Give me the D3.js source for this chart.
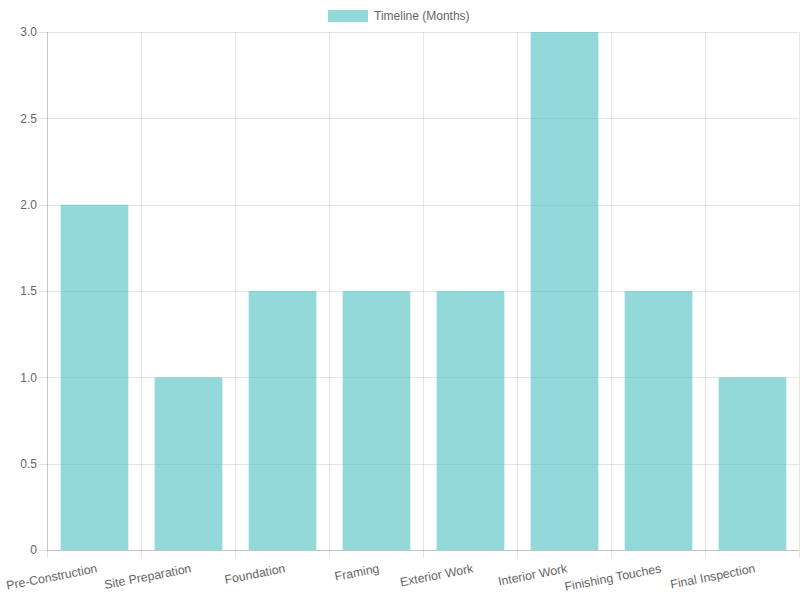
<!DOCTYPE html>
<html>
<head>
<meta charset="utf-8">
<script src="https://cdn.jsdelivr.net/npm/d3@7"></script>
<style>
  body { margin: 0; background: #fff; }
  svg text { font-family: "Liberation Sans", Arial, sans-serif; fill: #666; }
</style>
</head>
<body>
<svg id="chart" width="800" height="600"></svg>
<script>
// chart data
var phases = ["Pre-Construction", "Site Preparation", "Foundation", "Framing",
              "Exterior Work", "Interior Work", "Finishing Touches", "Final Inspection"];
var months = [2, 1, 1.5, 1.5, 1.5, 3, 1.5, 1];
var yTicks = [0, 0.5, 1.0, 1.5, 2.0, 2.5, 3.0];
var seriesName = "Timeline (Months)";

var margin = {left: 47, right: 1, top: 32, bottom: 50};
var width = 800 - margin.left - margin.right;
var height = 600 - margin.top - margin.bottom;

var svg = d3.select("#chart");

// category slots
var xSlot = d3.scaleBand().domain(phases).range([0, width]);

var y = d3.scaleLinear().domain([0, 3]).range([height, 0]);

var g = svg.append("g")
    .attr("transform", "translate(" + margin.left + "," + margin.top + ")");

// horizontal grid
g.selectAll("line.hgrid")
    .data(yTicks)
    .enter()
    .append("line")
    .attr("class", "hgrid")
    .attr("x1", -8)
    .attr("x2", width)
    .attr("y1", function(d){ return Math.round(y(d)) + 0.5; })
    .attr("y2", function(d){ return Math.round(y(d)) + 0.5; })
    .attr("stroke", "rgba(0,0,0,0.1)");

// vertical grid (category boundaries)
var bounds = phases.map(function(p){ return xSlot(p); }).concat([width]);
g.selectAll("line.vgrid")
    .data(bounds)
    .enter()
    .append("line")
    .attr("class", "vgrid")
    .attr("x1", function(d){ return Math.round(d) + 0.5; })
    .attr("x2", function(d){ return Math.round(d) + 0.5; })
    .attr("y1", 0)
    .attr("y2", height + 8)
    .attr("stroke", "rgba(0,0,0,0.1)");

// axis lines
g.append("line")
    .attr("x1", 0.5).attr("x2", 0.5)
    .attr("y1", 0).attr("y2", height)
    .attr("stroke", "rgba(0,0,0,0.12)");
g.append("line")
    .attr("x1", 0).attr("x2", width)
    .attr("y1", height + 0.5).attr("y2", height + 0.5)
    .attr("stroke", "rgba(0,0,0,0.15)");

// bars
g.selectAll("rect.bar")
    .data(months)
    .enter()
    .append("rect")
    .attr("class", "bar")
    .attr("x", function(d, i){ return xSlot(phases[i]) + xSlot.bandwidth() * 0.14 + 0.5; })
    .attr("width", xSlot.bandwidth() * 0.72)
    .attr("y", function(d){ return y(d); })
    .attr("height", function(d){ return height - y(d); })
    .attr("fill", "rgba(75,192,192,0.6)");

// y tick labels
g.selectAll("text.ylab")
    .data(yTicks)
    .enter()
    .append("text")
    .attr("class", "ylab")
    .attr("x", -10)
    .attr("y", function(d){ return y(d); })
    .attr("dy", "0.35em")
    .attr("text-anchor", "end")
    .style("font-size", "12px")
    .text(function(d){ return d === 0 ? "0" : d.toFixed(1); });

// x tick labels, rotated
g.selectAll("text.xlab")
    .data(phases)
    .enter()
    .append("text")
    .attr("class", "xlab")
    .attr("text-anchor", "end")
    .attr("transform", function(d){
        var cx = xSlot(d) + xSlot.bandwidth() / 2 + 3;
        return "translate(" + cx + "," + (height + 18) + ") rotate(-11)";
    })
    .attr("dy", "0.35em")
    .style("font-size", "12.3px")
    .text(function(d){ return d; });

// legend
var legend = svg.append("g").attr("class", "legend");
legend.append("rect")
    .attr("x", 328).attr("y", 10)
    .attr("width", 40).attr("height", 12)
    .attr("fill", "rgba(75,192,192,0.6)");
legend.append("text")
    .attr("x", 374).attr("y", 16)
    .attr("dy", "0.35em")
    .style("font-size", "12px")
    .text(seriesName);
</script>
</body>
</html>
